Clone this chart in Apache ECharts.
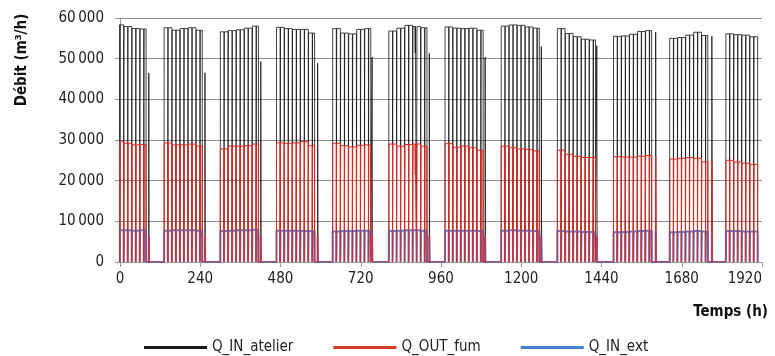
<!DOCTYPE html>
<html>
<head>
<meta charset="utf-8">
<script src="https://cdn.jsdelivr.net/npm/echarts@6/dist/echarts.min.js"></script>
<style>
  html, body { margin: 0; padding: 0; background: #fff; }
  #chart { width: 775px; height: 356px; }
</style>
</head>
<body>
<div id="chart"></div>
<script>
// start hour of each weekly block (first one begins before t=0)
const weekStarts = [-36, 132, 300, 468, 636, 804, 972, 1140, 1308, 1476, 1644, 1812];
// running periods inside a week, hours from week start (two per day, short stop between)
const weekRuns = [[0, 11], [12, 23], [24, 35], [36, 47], [48, 59], [60, 71], [72, 83], [84, 95], [96, 107], [108, 114]];

// daily plateau values, one row per week
const atelierLevels = [
    [58400, 58300, 57900, 57400, 57300],
    [57600, 57000, 57400, 57600, 57000],
    [56600, 56900, 57100, 57500, 58000],
    [57700, 57400, 57200, 57200, 56300],
    [57400, 56300, 56100, 57200, 57400],
    [56800, 57500, 58200, 57900, 57600],
    [57800, 57500, 57400, 57500, 57000],
    [58000, 58300, 58200, 57800, 57500],
    [57400, 56200, 55400, 54800, 54600],
    [55500, 55600, 56000, 56700, 56900],
    [55000, 55200, 55800, 56500, 55700],
    [56100, 55900, 55800, 55400]
];
const fumLevels = [
    [30000, 29700, 29200, 28800, 28900],
    [29300, 28800, 28800, 29000, 28500],
    [27800, 28500, 28500, 28600, 29000],
    [29300, 29200, 29300, 29600, 28600],
    [29200, 28600, 28300, 28700, 28800],
    [29000, 28500, 28900, 29000, 28500],
    [29100, 28200, 28500, 28100, 27500],
    [28500, 28100, 27800, 27700, 27300],
    [27500, 26500, 26000, 25700, 25700],
    [25900, 25800, 25800, 26000, 26200],
    [25300, 25500, 25700, 25500, 24600],
    [25000, 24600, 24300, 24000]
];
const extLevels = [
    [7800, 7800, 7800, 7700, 7800],
    [7700, 7800, 7800, 7800, 7700],
    [7600, 7700, 7800, 7800, 7900],
    [7700, 7700, 7700, 7600, 7600],
    [7500, 7600, 7600, 7700, 7700],
    [7600, 7700, 7800, 7800, 7700],
    [7700, 7700, 7700, 7700, 7600],
    [7700, 7800, 7700, 7700, 7600],
    [7600, 7500, 7500, 7400, 7400],
    [7300, 7400, 7500, 7600, 7700],
    [7300, 7400, 7500, 7600, 7500],
    [7600, 7600, 7500, 7500]
];

// short saturday run after each block (offset from week start)
const spikeOffsets = [122, 122, 121, 123, 118, 121, 120, 120, 118, 126, 126, null];
const atelierSpikes = [46500, 46500, 49300, 48900, 50400, 51300, 50400, 53000, 53200, 56500, 55500, null];
const fumSpikes = [6500, 6500, 6500, 6500, 6500, 6500, 6500, 6500, 6500, 26000, 25000, null];
const extSpikes = [6500, 6500, 6500, 6500, 6500, 6500, 6500, 6500, 6500, 7600, 7500, null];

// momentary drops during a run: [hour, value]
const atelierDips = [[348, 49200], [883, 51400]];
const fumDips = [[883, 21500]];
const extDips = [];

function buildSeries(levels, spikes, dips) {
    let pts = [];
    weekStarts.forEach((ws, k) => {
        let nRuns = levels[k].length * 2;
        weekRuns.slice(0, nRuns).forEach(([a, b], i) => {
            let v = levels[k][Math.floor(i / 2)];
            let s = ws + a, e = ws + b;
            pts.push([s, 0], [s, v]);
            dips.forEach(([t, dv]) => {
                if (t > s && t < e) pts.push([t, v], [t, dv], [t, v]);
            });
            pts.push([e, v], [e, 0]);
        });
        if (spikeOffsets[k] != null) {
            let t = ws + spikeOffsets[k];
            pts.push([t, 0], [t, spikes[k]], [t + 1, spikes[k]], [t + 1, 0]);
        }
    });
    return pts;
}

const font = "'DejaVu Sans Condensed', 'DejaVu Sans', sans-serif";

var myChart = echarts.init(document.getElementById('chart'));
var option = {
    animation: false,
    grid: { left: 120, right: 13, top: 18, bottom: 94 },
    legend: {
        left: 139,
        top: 335,
        icon: 'rect',
        itemWidth: 63,
        itemHeight: 3,
        itemGap: 40,
        textStyle: { fontFamily: font, fontSize: 15, color: '#222' },
        data: [
            { name: 'Q_IN_atelier', itemStyle: { color: '#1a1a1a' } },
            { name: 'Q_OUT_fum', itemStyle: { color: '#d23a2a' } },
            { name: 'Q_IN_ext', itemStyle: { color: '#4a7fd4' } }
        ]
    },
    xAxis: {
        type: 'value',
        min: 0,
        max: 1920,
        interval: 240,
        axisLine: { lineStyle: { color: '#999' } },
        axisTick: { show: true, length: 5, lineStyle: { color: '#999' } },
        axisLabel: {
            margin: 10, fontFamily: font, fontSize: 15, color: '#222', alignMaxLabel: 'right',
            formatter: v => String(v)
        },
        splitLine: { show: false }
    },
    yAxis: {
        type: 'value',
        min: 0,
        max: 60000,
        interval: 10000,
        axisLine: { show: true, lineStyle: { color: '#999' } },
        axisTick: { show: true, length: 5, lineStyle: { color: '#999' } },
        axisLabel: {
            margin: 16, fontFamily: font, fontSize: 15, color: '#222',
            formatter: v => v === 0 ? '0' : Math.floor(v / 1000) + '\u202F000'
        },
        splitLine: { lineStyle: { color: '#8c8c8c' } }
    },
    graphic: [
        {
            type: 'text', x: 22, y: 60, rotation: Math.PI / 2,
            style: { text: 'Débit (m³/h)', font: 'bold 15px ' + font, fill: '#111', align: 'center', verticalAlign: 'middle' }
        },
        {
            type: 'text', x: 768, y: 312,
            style: { text: 'Temps (h)', font: 'bold 15px ' + font, fill: '#111', align: 'right', verticalAlign: 'middle' }
        }
    ],
    series: [
        {
            name: 'Q_IN_atelier', type: 'line', symbol: 'none', color: '#111',
            lineStyle: { width: 0.8 }, data: buildSeries(atelierLevels, atelierSpikes, atelierDips)
        },
        {
            name: 'Q_IN_ext', type: 'line', symbol: 'none', color: '#4f7fd2',
            lineStyle: { width: 2 }, data: buildSeries(extLevels, extSpikes, extDips)
        },
        {
            name: 'Q_OUT_fum', type: 'line', symbol: 'none', color: '#e3261f',
            lineStyle: { width: 1 }, data: buildSeries(fumLevels, fumSpikes, fumDips)
        }
    ]
};
myChart.setOption(option);
</script>
</body>
</html>
